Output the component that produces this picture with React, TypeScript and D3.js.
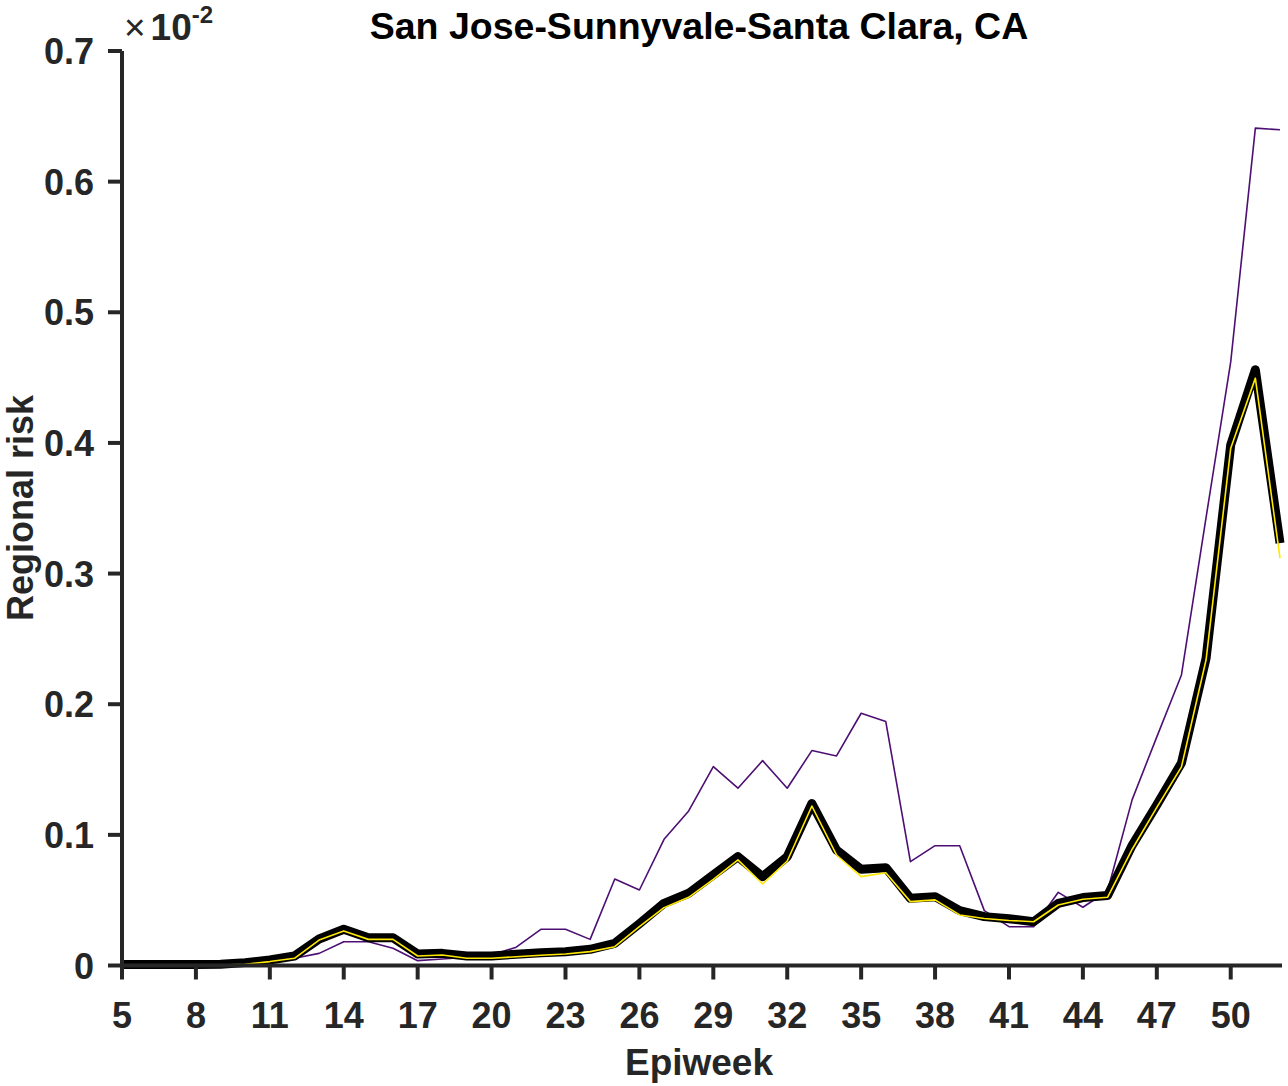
import React from "react";
import * as d3 from "d3";

const weeks = [5,6,7,8,9,10,11,12,13,14,15,16,17,18,19,20,21,22,23,24,25,26,27,28,29,30,31,32,33,34,35,36,37,38,39,40,41,42,43,44,45,46,47,48,49,50,51,52];

// values in units of 1e-2
const purpleSeries = [0,0,0,0,0,0.0005,0.0015,0.0055,0.0093,0.0182,0.0182,0.0132,0.0037,0.005,0.0063,0.008,0.014,0.0277,0.0277,0.02,0.0662,0.0578,0.0966,0.1183,0.1522,0.1357,0.1568,0.1357,0.1645,0.1604,0.1931,0.1867,0.0795,0.0917,0.0917,0.042,0.0297,0.0297,0.056,0.0446,0.057,0.127,0.175,0.2224,0.343,0.462,0.641,0.6397];

const blackSeries = [0.0007,0.0007,0.0007,0.0007,0.001,0.0022,0.0042,0.0073,0.0203,0.0277,0.0213,0.0213,0.0088,0.0093,0.0073,0.0073,0.0086,0.0098,0.0106,0.0124,0.017,0.032,0.0476,0.0553,0.0693,0.0833,0.068,0.0833,0.124,0.0884,0.0737,0.0749,0.0514,0.0527,0.042,0.0374,0.0358,0.0335,0.0476,0.052,0.0535,0.092,0.123,0.155,0.2352,0.3985,0.456,0.3233];

const yellowSeries = [0,0,0,0,0.0003,0.001,0.003,0.0055,0.0195,0.0264,0.02,0.02,0.0073,0.008,0.0055,0.0055,0.0067,0.0078,0.0088,0.0106,0.0144,0.0297,0.0443,0.0522,0.066,0.0808,0.0624,0.08,0.1221,0.0846,0.068,0.071,0.0489,0.0502,0.0387,0.036,0.0345,0.0335,0.0463,0.0507,0.0522,0.089,0.121,0.152,0.234,0.396,0.4496,0.3118];

const xTicks = [5,8,11,14,17,20,23,26,29,32,35,38,41,44,47,50];
const yTicks = [0,0.1,0.2,0.3,0.4,0.5,0.6,0.7];
const yTickLabels = ["0","0.1","0.2","0.3","0.4","0.5","0.6","0.7"];

const title = "San Jose-Sunnyvale-Santa Clara, CA";
const xLabel = "Epiweek";
const yLabel = "Regional risk";

const W = 1288, H = 1086;
const AX = "#262626";
const FONT = "'Liberation Sans', Arial, Helvetica, sans-serif";

export default function App() {
  const x = d3.scaleLinear().domain([5, 52]).range([122, 1280]);
  const y = d3.scaleLinear().domain([0, 0.7]).range([965.5, 51]);
  const mk = (vals: number[]) =>
    d3.line<number>().x((_, i) => x(weeks[i])).y((v) => y(v))(vals) || "";

  return (
    <svg width={W} height={H} style={{ position: "absolute", left: 0, top: 0, background: "#fff" }} fontFamily={FONT}>
      <rect x={0} y={0} width={W} height={H} fill="#fff" />
      {/* data */}
      <path d={mk(purpleSeries)} fill="none" stroke="#4d0f73" strokeWidth={1.6} strokeLinejoin="round" />
      <path d={mk(blackSeries)} fill="none" stroke="#000" strokeWidth={9} strokeLinejoin="round" strokeLinecap="butt" />
      <path d={mk(yellowSeries)} fill="none" stroke="#ffe800" strokeWidth={1.6} strokeLinejoin="round" />

      {/* axes */}
      <line x1={122} x2={122} y1={y(0.7)} y2={y(0) + 2} stroke={AX} strokeWidth={4} />
      <line x1={120} x2={1282} y1={y(0)} y2={y(0)} stroke={AX} strokeWidth={4} />
      {yTicks.map((t, i) => (
        <g key={"y" + i}>
          <line x1={108} x2={122} y1={y(t)} y2={y(t)} stroke={AX} strokeWidth={4} />
          <text x={94} y={y(t) + 13} textAnchor="end" fontSize={36} fontWeight="bold" fill={AX}>
            {yTickLabels[i]}
          </text>
        </g>
      ))}
      {xTicks.map((t) => (
        <g key={"x" + t}>
          <line x1={x(t)} x2={x(t)} y1={y(0)} y2={y(0) + 14} stroke={AX} strokeWidth={4} />
          <text x={x(t)} y={1028} textAnchor="middle" fontSize={36} fontWeight="bold" fill={AX}>
            {t}
          </text>
        </g>
      ))}

      {/* exponent */}
      <text x={124} y={40} fill={AX} fontSize={37}>
        <tspan fontWeight="normal">×</tspan>
        <tspan fontWeight="bold" dx={5}>10</tspan>
        <tspan fontWeight="bold" fontSize={24} dy={-17}>-2</tspan>
      </text>

      {/* title & labels */}
      <text x={699} y={39} textAnchor="middle" fontSize={37.5} fontWeight="bold" fill="#000">
        {title}
      </text>
      <text x={699} y={1075} textAnchor="middle" fontSize={37} fontWeight="bold" fill={AX}>
        {xLabel}
      </text>
      <text transform={`translate(33,508) rotate(-90)`} textAnchor="middle" fontSize={36} fontWeight="bold" fill={AX}>
        {yLabel}
      </text>
    </svg>
  );
}
